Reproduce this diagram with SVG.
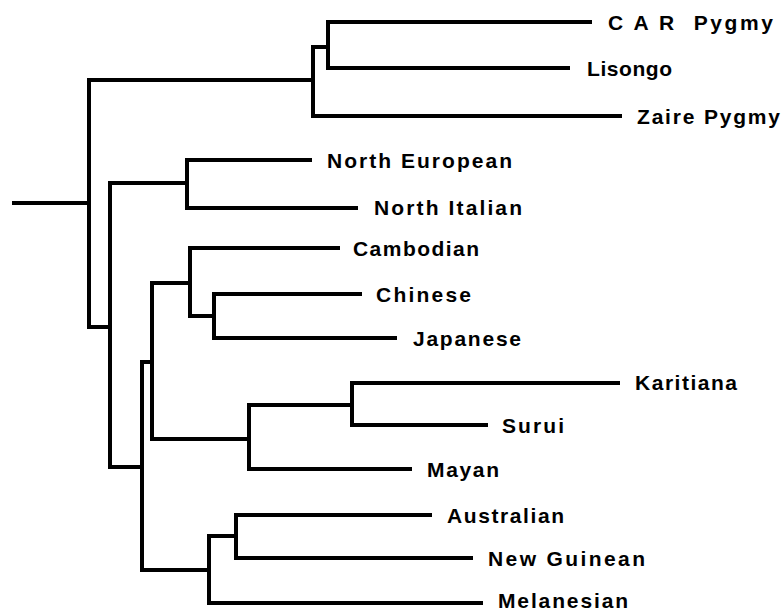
<svg xmlns="http://www.w3.org/2000/svg" width="784" height="612" viewBox="0 0 784 612">
<style>
.c{fill:none;stroke:#000;stroke-width:4;stroke-linejoin:miter;stroke-linecap:butt}
.t{font-family:"Liberation Sans",Arial,sans-serif;font-size:21px;font-weight:bold;fill:#000}
</style>
<rect width="784" height="612" fill="#fff"/>
<g id="connectors">
<path class="c" d="M12 203 H89"/>
<path class="c" d="M313 80 H89 V327 H110"/>
<path class="c" d="M328 47 H313 V116 H622"/>
<path class="c" d="M592 22 H328 V68 H570"/>
<path class="c" d="M187 183 H110 V467 H142"/>
<path class="c" d="M312 160 H187 V208 H358"/>
<path class="c" d="M152 362 H142 V570 H209"/>
<path class="c" d="M190 283 H152 V439 H249"/>
<path class="c" d="M340 248 H190 V316 H214"/>
<path class="c" d="M362 294 H214 V338 H397"/>
<path class="c" d="M352 405 H249 V469 H412"/>
<path class="c" d="M620 383 H352 V425 H488"/>
<path class="c" d="M236 536 H209 V603 H483"/>
<path class="c" d="M432 515 H236 V558 H473"/>
</g>
<g id="car-pygmy"><text class="t" x="608" y="30" textLength="165" lengthAdjust="spacing" xml:space="preserve">C A R  Pygmy</text></g>
<g id="lisongo"><text class="t" x="587" y="76" textLength="85" lengthAdjust="spacing">Lisongo</text></g>
<g id="zaire-pygmy"><text class="t" x="637" y="124" textLength="143" lengthAdjust="spacing">Zaire Pygmy</text></g>
<g id="north-european"><text class="t" x="327" y="168" textLength="185" lengthAdjust="spacing">North European</text></g>
<g id="north-italian"><text class="t" x="374" y="215" textLength="148" lengthAdjust="spacing">North Italian</text></g>
<g id="cambodian"><text class="t" x="353" y="256" textLength="126" lengthAdjust="spacing">Cambodian</text></g>
<g id="chinese"><text class="t" x="376" y="302" textLength="95" lengthAdjust="spacing">Chinese</text></g>
<g id="japanese"><text class="t" x="413" y="346" textLength="108" lengthAdjust="spacing">Japanese</text></g>
<g id="karitiana"><text class="t" x="635" y="390" textLength="102" lengthAdjust="spacing">Karitiana</text></g>
<g id="surui"><text class="t" x="502" y="433" textLength="62" lengthAdjust="spacing">Surui</text></g>
<g id="mayan"><text class="t" x="427" y="477" textLength="72" lengthAdjust="spacing">Mayan</text></g>
<g id="australian"><text class="t" x="447" y="523" textLength="117" lengthAdjust="spacing">Australian</text></g>
<g id="new-guinean"><text class="t" x="488" y="566" textLength="157" lengthAdjust="spacing">New Guinean</text></g>
<g id="melanesian"><text class="t" x="498" y="608" textLength="130" lengthAdjust="spacing">Melanesian</text></g>
</svg>
